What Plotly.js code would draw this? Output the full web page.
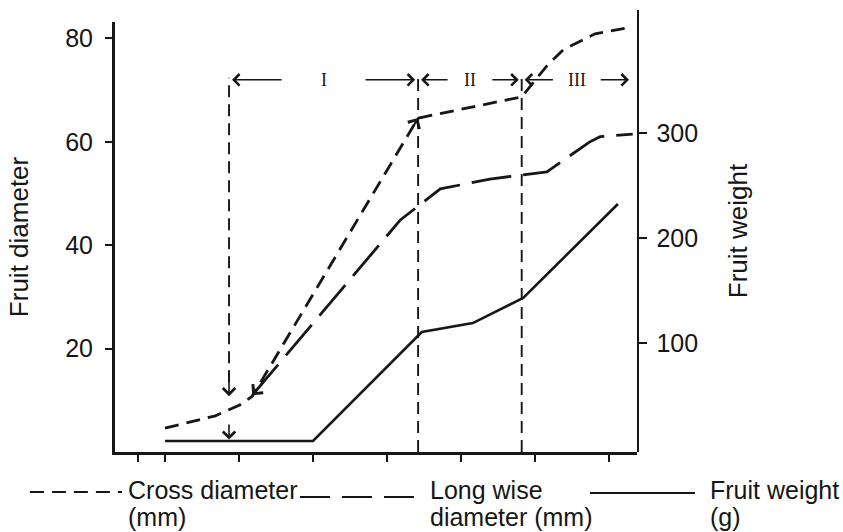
<!DOCTYPE html>
<html><head><meta charset="utf-8">
<script src="https://cdn.plot.ly/plotly-3.0.1.min.js"></script>
<style>html,body{margin:0;padding:0;background:#fff;} #chart{width:843px;height:532px;}</style>
</head><body><div id="chart"></div>
<script>
// x positions expressed in (unlabelled) tick units
const crossX = [0, 0.68, 1.01, 1.18, 3.42, 4.12, 4.82, 5.16, 5.38, 5.81, 6.26];
const crossY = [4.6, 7.0, 9.1, 10.8, 64.6, 66.6, 68.7, 74.7, 77.8, 80.9, 82.1];
const longX = [1.18, 3.18, 3.72, 4.39, 5.16, 5.74, 5.88, 6.32];
const longY = [11.0, 44.9, 50.9, 52.8, 54.2, 60.0, 61.0, 61.5];
const weightX = [0, 2.0, 3.47, 4.16, 4.84, 6.12];
const weightY = [6.7, 6.7, 110.5, 119.0, 142.9, 232.4];
const xTicks = [-0.36, 0, 1, 2, 3, 4, 5, 6];
const leftTicks = [20, 40, 60, 80];
const rightTicks = [100, 200, 300];
const phaseBounds = [0.865, 3.42, 4.82, 6.31];
const phaseLabels = ['I', 'II', 'III'];
const legendLabels = [['Cross diameter', '(mm)'], ['Long wise', 'diameter (mm)'], ['Fruit weight', '(g)']];

const INK = '#161616';
const FONT = 'Liberation Sans, Arial, Helvetica, sans-serif';
const crossDash = '14px,8px';
const longDash = '40px,12px';

const traces = [
  {x: crossX, y: crossY, yaxis: 'y', mode: 'lines', name: 'Cross diameter (mm)',
   line: {color: INK, width: 2.8, dash: crossDash}, hoverinfo: 'skip'},
  {x: longX, y: longY, yaxis: 'y', mode: 'lines', name: 'Long wise diameter (mm)',
   line: {color: INK, width: 2.8, dash: longDash}, hoverinfo: 'skip'},
  {x: weightX, y: weightY, xaxis: 'x', yaxis: 'y2', mode: 'lines', name: 'Fruit weight (g)',
   line: {color: INK, width: 2.6}, hoverinfo: 'skip'}
];

const topLevel = 72.0;   // height (left axis units) of the phase arrows row
const shapes = [];
const annotations = [];

// phase boundary lines
phaseBounds.slice(0, 3).forEach((b, i) => {
  shapes.push({type: 'line', xref: 'x', yref: 'y', x0: b, x1: b,
    y0: i === 0 ? 13.5 : 0, y1: topLevel + 0.4,
    line: {color: INK, width: 1.9, dash: '12px,7px'}});
});
// arrows at bottom of first boundary line
annotations.push({x: phaseBounds[0], y: 10.8, ax: phaseBounds[0], ay: 16, xref: 'x', yref: 'y', axref: 'x', ayref: 'y',
  text: '', showarrow: true, arrowhead: 4, arrowsize: 1.5, arrowwidth: 1.6, arrowcolor: INK, standoff: 0});
annotations.push({x: phaseBounds[0], y: 2.4, ax: phaseBounds[0], ay: 5.6, xref: 'x', yref: 'y', axref: 'x', ayref: 'y',
  text: '', showarrow: true, arrowhead: 4, arrowsize: 1.5, arrowwidth: 1.6, arrowcolor: INK, standoff: 0});

// phase arrows and labels
phaseLabels.forEach((lab, i) => {
  const a = phaseBounds[i], b = phaseBounds[i + 1], w = b - a, mid = (a + b) / 2, len = 0.27 * w;
  annotations.push({x: a + 0.04, y: topLevel, ax: a + 0.04 + len, ay: topLevel, xref: 'x', yref: 'y', axref: 'x', ayref: 'y',
    text: '', showarrow: true, arrowhead: 4, arrowsize: 1.6, arrowwidth: 1.4, arrowcolor: INK, standoff: 0});
  annotations.push({x: b - 0.04, y: topLevel, ax: b - 0.04 - len, ay: topLevel, xref: 'x', yref: 'y', axref: 'x', ayref: 'y',
    text: '', showarrow: true, arrowhead: 4, arrowsize: 1.6, arrowwidth: 1.4, arrowcolor: INK, standoff: 0});
  annotations.push({x: mid, y: topLevel, xref: 'x', yref: 'y', text: lab, showarrow: false,
    font: {family: 'Liberation Serif, Times New Roman, serif', size: 18, color: INK}});
});

// arrowheads on the diameter curves
function headAlong(xs, ys, iTip, iFrom, f) {
  return {x: xs[iTip], y: ys[iTip], ax: xs[iTip] + (xs[iFrom] - xs[iTip]) * f, ay: ys[iTip] + (ys[iFrom] - ys[iTip]) * f,
    xref: 'x', yref: 'y', axref: 'x', ayref: 'y', text: '', showarrow: true, arrowhead: 4, arrowsize: 1.3,
    arrowwidth: 2, arrowcolor: INK, standoff: 0};
}
annotations.push(headAlong(longX, longY, 0, 1, 0.08));
annotations.push(headAlong(crossX, crossY, 4, 3, 0.05));

// custom legend below the axis (paper coordinates)
const legendKeys = [
  {x0: -0.163, x1: 0.0134, y: -0.0905, dash: crossDash, tx: 0.0211},
  {x0: 0.3544, x1: 0.5805, y: -0.1018, dash: '30px,12px', tx: 0.5996},
  {x0: 0.910, x1: 1.111, y: -0.0928, dash: 'solid', tx: 1.136}
];
legendKeys.forEach((k, i) => {
  shapes.push({type: 'line', xref: 'paper', yref: 'paper', x0: k.x0, x1: k.x1, y0: k.y, y1: k.y,
    line: {color: INK, width: 1.8, dash: k.dash}});
  annotations.push({xref: 'paper', yref: 'paper', x: k.tx, y: -0.086, xanchor: 'left', yanchor: 'middle',
    text: legendLabels[i][0], showarrow: false, font: {family: FONT, size: 25, color: INK}});
  annotations.push({xref: 'paper', yref: 'paper', x: k.tx, y: -0.147, xanchor: 'left', yanchor: 'middle',
    text: legendLabels[i][1], showarrow: false, font: {family: FONT, size: 25, color: INK}});
});

const layout = {
  width: 843, height: 532,
  margin: {l: 115, r: 206, t: 10, b: 80},
  paper_bgcolor: '#fff', plot_bgcolor: 'rgba(0,0,0,0)',
  showlegend: false,
  font: {family: FONT, size: 25, color: INK},
  xaxis: {range: [-0.676, 6.378], showgrid: false, zeroline: false, showline: true, linewidth: 3, linecolor: INK,
    ticks: 'outside', ticklen: 7, tickwidth: 2, tickcolor: INK, tickvals: xTicks, showticklabels: false, fixedrange: true},
  yaxis: {domain: [0, 0.973], range: [0, 83.2], showgrid: false, zeroline: false, showline: true, linewidth: 3, linecolor: INK,
    ticks: 'outside', ticklen: 7, tickwidth: 2, tickcolor: INK, tickvals: leftTicks, ticklabelstandoff: 7,
    tickfont: {size: 25}, automargin: true,
    title: {text: 'Fruit diameter', font: {size: 26}, standoff: 30}},
  yaxis2: {anchor: 'x', side: 'right', domain: [0, 1], range: [-3.8, 417.1], showgrid: false, zeroline: false,
    showline: true, linewidth: 2.4, linecolor: INK, ticks: 'outside', ticklen: 8, tickwidth: 2, tickcolor: INK,
    tickvals: rightTicks, ticklabelstandoff: 4, tickfont: {size: 25}, automargin: true,
    title: {text: 'Fruit weight', font: {size: 26}, standoff: 32}},
  shapes: shapes,
  annotations: annotations
};

Plotly.newPlot('chart', traces, layout, {staticPlot: true, displayModeBar: false});
</script>
</body></html>
